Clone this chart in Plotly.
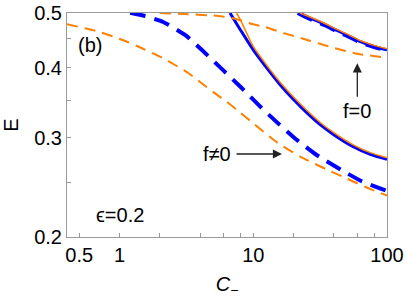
import numpy as np
import plotly.graph_objects as go

# ---- data ----
# lower branch, f != 0 (thick blue dashed)
x_bd1 = [1.2, 1.5, 2.12, 3.09, 4.25, 6.0, 8.09, 11, 15.2, 21, 29.6, 45, 64.2, 100]
e_bd1 = [0.5005, 0.495, 0.482, 0.457, 0.427, 0.395, 0.369, 0.343, 0.319, 0.298, 0.280, 0.2636, 0.2515, 0.2415]
# lower branch, f != 0 (thin orange dashed)
x_od1 = [0.405, 0.66, 1.0, 1.5, 2.14, 2.56, 3.23, 4.07, 5.09, 6.41, 7.82, 9.45, 15.2, 23, 35, 50, 76, 100]
e_od1 = [0.4775, 0.465, 0.45, 0.432, 0.415, 0.405, 0.392, 0.376, 0.361, 0.347, 0.334, 0.322, 0.294, 0.277, 0.264, 0.254, 0.243, 0.237]
# lower branch, f = 0 (blue solid / orange solid)
x_bs1 = [6.7, 8.0, 10, 13.3, 16, 20, 25, 32, 40, 55, 75, 100]
e_bs1 = [0.5, 0.467, 0.430, 0.393, 0.372, 0.351, 0.333, 0.316, 0.304, 0.290, 0.2805, 0.2748]
x_os1 = [7.5, 7.95, 10, 13.3, 16, 20, 25, 32, 40, 55, 75, 100]
e_os1 = [0.5, 0.488, 0.436, 0.397, 0.3758, 0.3545, 0.3362, 0.3188, 0.3065, 0.2922, 0.2824, 0.2765]
# upper branch
x_od2 = [2.0, 2.8, 5.45, 7.43, 9.8, 12.2, 14.1, 17.7, 26.4, 39.6, 60.3, 100]
e_od2 = [0.5, 0.4985, 0.494, 0.488, 0.478, 0.4725, 0.467, 0.459, 0.4465, 0.4337, 0.4232, 0.4165]
x_bs2 = [22, 26, 30, 35, 41.8, 50, 62.6, 80, 100]
e_bs2 = [0.5, 0.491, 0.484, 0.476, 0.466, 0.457, 0.445, 0.436, 0.430]
x_bd2 = [21.5, 26, 30, 35, 41.8, 50, 62.6, 80, 100]
e_bd2 = [0.5, 0.489, 0.482, 0.4745, 0.4645, 0.4555, 0.4438, 0.435, 0.429]
x_os2 = [22.3, 26, 30, 35, 41.8, 50, 62.6, 80, 100]
e_os2 = [0.5, 0.493, 0.486, 0.478, 0.468, 0.459, 0.447, 0.438, 0.4318]

x_tickvals = [0.5, 1, 2, 4, 6, 8, 10, 20, 40, 60, 80, 100]
x_ticktext = ['0.5', '1', '', '', '', '', '10', '', '', '', '', '100']
y_tickvals = [0.2, 0.25, 0.3, 0.35, 0.4, 0.45, 0.5]
y_ticktext = ['0.2', '', '0.3', '', '0.4', '', '0.5']

BLUE = '#0000ff'
ORANGE = '#ff8000'
GRAY = '#9a9a9a'
FONT = 'Liberation Sans, Arial, sans-serif'

fig = go.Figure()

def add(x, y, color, width, dash):
    fig.add_trace(go.Scatter(x=x, y=y, mode='lines',
                             line=dict(color=color, width=width, dash=dash, shape='spline', smoothing=0.6),
                             hoverinfo='skip', showlegend=False))

add(x_bd1, e_bd1, BLUE, 4, '16px,9px')
add(x_od1, e_od1, ORANGE, 2, '11px,7px')
add(x_bs1, e_bs1, BLUE, 3, 'solid')
add(x_os1, e_os1, ORANGE, 1.5, 'solid')
add(x_od2, e_od2, ORANGE, 2, '11px,7px')
add(x_bd2, e_bd2, BLUE, 4, '16px,9px')
add(x_bs2, e_bs2, BLUE, 3, 'solid')
add(x_os2, e_os2, ORANGE, 1.5, 'solid')

W, H = 407, 299
L, R, T, B = 67, 20, 13, 62
pw, ph = W - L - R, H - T - B

def px(x):
    return (x - L) / pw

def py(y):
    return (H - B - y) / ph

anns = [
    dict(text='(b)', x=px(90), y=py(45)),
    dict(text='ϵ=0.2', x=px(120), y=py(215)),
]
anns = [dict(xref='paper', yref='paper', showarrow=False, xanchor='center',
             yanchor='middle', font=dict(size=20), **a) for a in anns]
# labelled arrows (text at the tail, head at x/y)
anns.append(dict(xref='paper', yref='paper', x=px(282), y=py(154), text='f≠0',
                 font=dict(size=20), showarrow=True, ax=-65, ay=0, arrowhead=2,
                 arrowsize=1.4, arrowwidth=1.3, arrowcolor='#222', startstandoff=4))
anns.append(dict(xref='paper', yref='paper', x=px(357.3), y=py(63.3), text='f=0',
                 font=dict(size=20), showarrow=True, ax=0, ay=48, arrowhead=2,
                 arrowsize=1.4, arrowwidth=1.3, arrowcolor='#222', startstandoff=2))

axis_common = dict(type='log', showgrid=False, zeroline=False, showline=True,
                   linecolor=GRAY, linewidth=1, mirror=True, ticks='inside',
                   ticklen=4, tickwidth=1, tickcolor=GRAY, automargin=False,
                   tickfont=dict(size=20, color='black', family=FONT))

fig.update_layout(
    width=W, height=H,
    margin=dict(l=L, r=R, t=T, b=B),
    paper_bgcolor='white', plot_bgcolor='white',
    font=dict(family=FONT, size=20, color='black'),
    xaxis=dict(range=[np.log10(0.405), 2], tickvals=x_tickvals, ticktext=x_ticktext,
               title=dict(text='<i>C</i><sub>−</sub>', standoff=11, font=dict(size=20)),
               **axis_common),
    yaxis=dict(range=[np.log10(0.2), np.log10(0.5)], tickvals=y_tickvals, ticktext=y_ticktext,
               title=dict(text='E', standoff=20, font=dict(size=20)),
               **axis_common),
    annotations=anns,
)

# remove the page's default body margin so the figure sits at the window's top-left corner
fig.write_html('out.html', config={'displayModeBar': False},
               post_script="document.body.style.margin='0';document.body.style.padding='0';")
